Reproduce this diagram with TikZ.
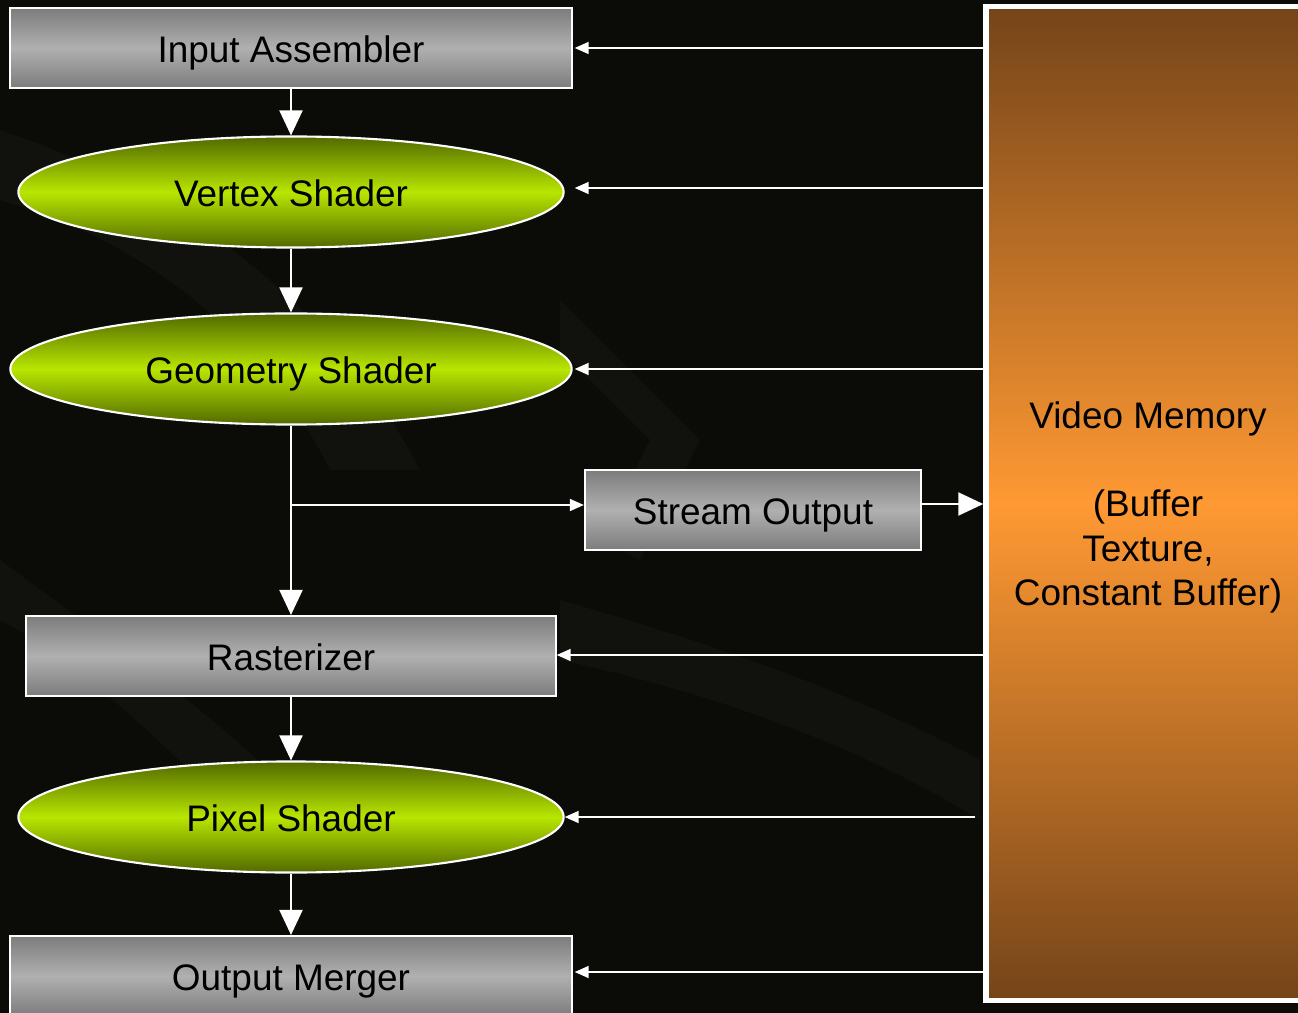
\documentclass[tikz,border=0pt]{standalone}
\usepackage{fontspec}
\setmainfont{Liberation Sans}
\usepackage{tikz}
\usetikzlibrary{arrows.meta,positioning,shapes.geometric}
\definecolor{bgdark}{HTML}{0B0B07}
\definecolor{boxgrey}{HTML}{7C7C7C}
\definecolor{boxlight}{HTML}{B0B0B0}
\definecolor{shaderdark}{HTML}{526A00}
\definecolor{shaderlight}{HTML}{B8E600}
\definecolor{memdark}{HTML}{744419}
\definecolor{memlight}{HTML}{FF9933}
\tikzset{
  stagebox/.style={draw=white, line width=0.6pt, top color=boxgrey, bottom color=boxgrey, middle color=boxlight, minimum width=5.61cm, minimum height=8mm, inner sep=0pt, text height=8pt, text depth=0pt, font=\fontsize{10.5}{12.6}\selectfont},
  shaderellipse/.style={ellipse, draw=white, line width=0.6pt, top color=shaderdark, bottom color=shaderdark, middle color=shaderlight, minimum width=5.45cm, minimum height=11.1mm, inner sep=0pt, text height=8pt, text depth=0pt, font=\fontsize{10.5}{12.6}\selectfont},
  memorybox/.style={draw=white, line width=1.5pt, top color=memdark, bottom color=memdark, middle color=memlight, minimum width=3.24cm, minimum height=9.93cm, align=center, inner sep=0pt, text depth=0pt, font=\fontsize{10.5}{12.6}\selectfont},
  flowarrow/.style={-{Triangle[length=2.5mm,width=2.3mm]}, draw=white, fill=white, line width=0.6pt},
  feedarrow/.style={-{Triangle[length=1.4mm,width=1.2mm]}, draw=white, fill=white, line width=0.5pt},
  swoosh/.style={fill=white, opacity=0.028}
}
\begin{document}
\begin{tikzpicture}[x=0.01cm, y=-0.01cm]
\useasboundingbox (0,0) rectangle (1298,1013);
\clip (0,0) rectangle (1298,1013);
% background
\fill[bgdark] (0,0) rectangle (1298,1013);
\fill[swoosh] (0,130) .. controls (180,190) and (330,300) .. (420,470) -- (330,470) .. controls (260,330) and (140,240) .. (0,200) -- cycle;
\fill[swoosh] (560,300) -- (700,440) -- (640,560) -- (600,540) -- (650,440) -- (560,350) -- cycle;
\fill[swoosh] (560,600) .. controls (700,640) and (850,690) .. (980,760) -- (980,820) .. controls (850,740) and (700,690) .. (560,660) -- cycle;
\fill[swoosh] (0,560) .. controls (80,620) and (200,700) .. (300,800) -- (220,800) .. controls (140,720) and (60,650) .. (0,620) -- cycle;

\node[stagebox] (assembler) at (291,48) {Input Assembler};
\node[shaderellipse] (vertex) at (291,192) {Vertex Shader};
\node[shaderellipse, minimum width=5.61cm] (geometry) at (291,369) {Geometry Shader};
\node[stagebox, minimum width=3.36cm] (stream) at (753,510) {Stream Output};
\node[stagebox, minimum width=5.29cm] (raster) at (291,656) {Rasterizer};
\node[shaderellipse] (pixel) at (291,817) {Pixel Shader};
\node[stagebox] (merger) at (291,976) {Output Merger};
\node[memorybox] (memory) at (1148,503.5) {Video Memory\\[12.6pt](Buffer\\Texture,\\Constant Buffer)};
\coordinate (branch) at (291,505);

\draw[flowarrow] (assembler) -- (vertex);
\draw[flowarrow] (vertex) -- (geometry);
\draw[flowarrow] (geometry) -- (raster);
\draw[flowarrow] (raster) -- (pixel);
\draw[flowarrow] (pixel) -- (merger);
\draw[feedarrow] (branch) -- (stream.west |- branch);
\draw[flowarrow] (stream.east |- 0,504) -- (memory.west |- 0,504);
\foreach \stage/\y/\dx in {assembler/48/0.02, vertex/188/0.1, geometry/369/0.02, raster/655/0, merger/972/0.02}
  \draw[feedarrow] (memory.west |- 0,\y) -- ([xshift=\dx cm]\stage.east |- 0,\y);
\draw[feedarrow] ([xshift=-0.08cm]memory.west |- 0,817) -- (pixel.east);
\end{tikzpicture}
\end{document}
